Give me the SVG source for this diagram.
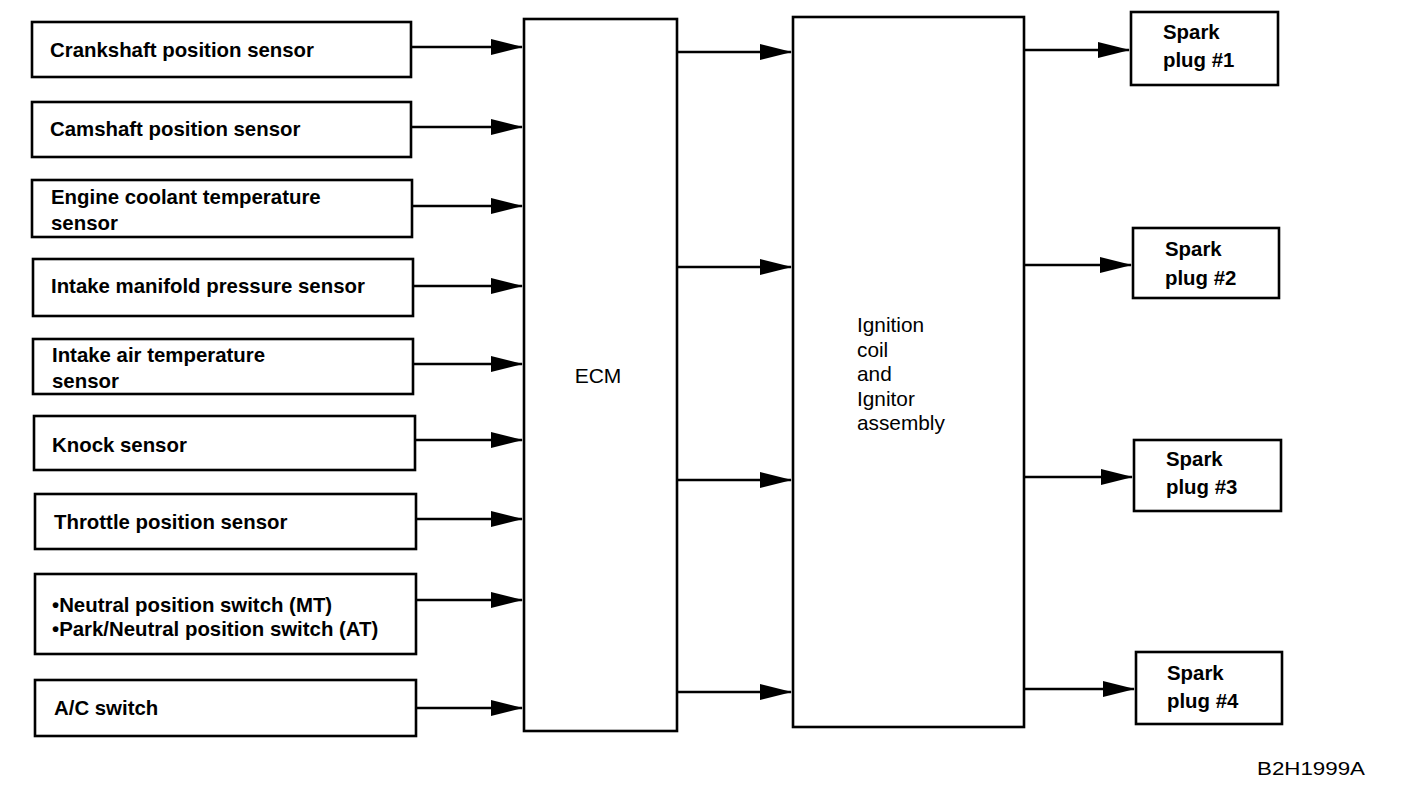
<svg xmlns="http://www.w3.org/2000/svg" width="1408" height="794" viewBox="0 0 1408 794">
<style>
.box{fill:#fff;stroke:#000;stroke-width:2.6}
.con{stroke:#000;stroke-width:2.6;fill:none;marker-end:url(#ah)}
.t{font-family:"Liberation Sans",Arial,sans-serif;font-size:20.4px;font-weight:bold;fill:#000}
.r{font-family:"Liberation Sans",Arial,sans-serif;font-size:20.8px;fill:#000}
</style>
<defs>
<marker id="ah" markerUnits="userSpaceOnUse" markerWidth="32" markerHeight="18" viewBox="0 0 32 18" refX="31" refY="9" orient="auto">
<path d="M0,1 L32,9 L0,17 z" fill="#000"/>
</marker>
</defs>
<rect width="1408" height="794" fill="#fff"/>
<g id="connectors">
<line class="con" x1="411" y1="47" x2="522" y2="47"/>
<line class="con" x1="411" y1="127" x2="522" y2="127"/>
<line class="con" x1="412" y1="206" x2="522" y2="206"/>
<line class="con" x1="413" y1="286" x2="522" y2="286"/>
<line class="con" x1="413" y1="364" x2="522" y2="364"/>
<line class="con" x1="415" y1="440" x2="522" y2="440"/>
<line class="con" x1="416" y1="519" x2="522" y2="519"/>
<line class="con" x1="416" y1="600" x2="522" y2="600"/>
<line class="con" x1="416" y1="708" x2="522" y2="708"/>
<line class="con" x1="677" y1="52" x2="791" y2="52"/>
<line class="con" x1="677" y1="267" x2="791" y2="267"/>
<line class="con" x1="677" y1="480" x2="791" y2="480"/>
<line class="con" x1="677" y1="692" x2="791" y2="692"/>
<line class="con" x1="1024" y1="50" x2="1129" y2="50"/>
<line class="con" x1="1024" y1="265" x2="1131" y2="265"/>
<line class="con" x1="1024" y1="477" x2="1132" y2="477"/>
<line class="con" x1="1024" y1="689" x2="1134" y2="689"/>
</g>
<g id="crankshaft"><rect class="box" x="32" y="22" width="379" height="55"/><text class="t" x="50" y="57">Crankshaft position sensor</text></g>
<g id="camshaft"><rect class="box" x="32" y="102" width="379" height="55"/><text class="t" x="50" y="136">Camshaft position sensor</text></g>
<g id="coolant"><rect class="box" x="32" y="180" width="380" height="57"/><text class="t" x="51" y="204">Engine coolant temperature</text><text class="t" x="51" y="230">sensor</text></g>
<g id="manifold"><rect class="box" x="33" y="259" width="380" height="57"/><text class="t" x="51" y="293">Intake manifold pressure sensor</text></g>
<g id="intakeair"><rect class="box" x="33" y="339" width="380" height="55"/><text class="t" x="52" y="362">Intake air temperature</text><text class="t" x="52" y="388">sensor</text></g>
<g id="knock"><rect class="box" x="34" y="416" width="381" height="54"/><text class="t" x="52" y="452">Knock sensor</text></g>
<g id="throttle"><rect class="box" x="35" y="494" width="381" height="55"/><text class="t" x="54" y="529">Throttle position sensor</text></g>
<g id="neutral"><rect class="box" x="35" y="574" width="381" height="80"/><text class="t" x="52" y="612">•Neutral position switch (MT)</text><text class="t" x="52" y="636">•Park/Neutral position switch (AT)</text></g>
<g id="ac"><rect class="box" x="35" y="680" width="381" height="56"/><text class="t" x="54" y="715">A/C switch</text></g>
<g id="ecm"><rect class="box" x="524" y="19" width="153" height="712"/><text class="r" x="598" y="383" text-anchor="middle" style="font-size:21px">ECM</text></g>
<g id="ignition"><rect class="box" x="793" y="17" width="231" height="710"/>
<text class="r" x="857" y="332">Ignition</text><text class="r" x="857" y="357">coil</text><text class="r" x="857" y="381">and</text><text class="r" x="857" y="406">Ignitor</text><text class="r" x="857" y="430">assembly</text></g>
<g id="spark1"><rect class="box" x="1131" y="12" width="147" height="73"/><text class="t" x="1163" y="39">Spark</text><text class="t" x="1163" y="67">plug #1</text></g>
<g id="spark2"><rect class="box" x="1133" y="228" width="146" height="70"/><text class="t" x="1165" y="256">Spark</text><text class="t" x="1165" y="285">plug #2</text></g>
<g id="spark3"><rect class="box" x="1134" y="440" width="147" height="71"/><text class="t" x="1166" y="466">Spark</text><text class="t" x="1166" y="494">plug #3</text></g>
<g id="spark4"><rect class="box" x="1136" y="652" width="146" height="72"/><text class="t" x="1167" y="680">Spark</text><text class="t" x="1167" y="708">plug #4</text></g>
<text class="r" x="1257" y="775" textLength="108" lengthAdjust="spacingAndGlyphs" style="font-size:19px">B2H1999A</text>
</svg>
